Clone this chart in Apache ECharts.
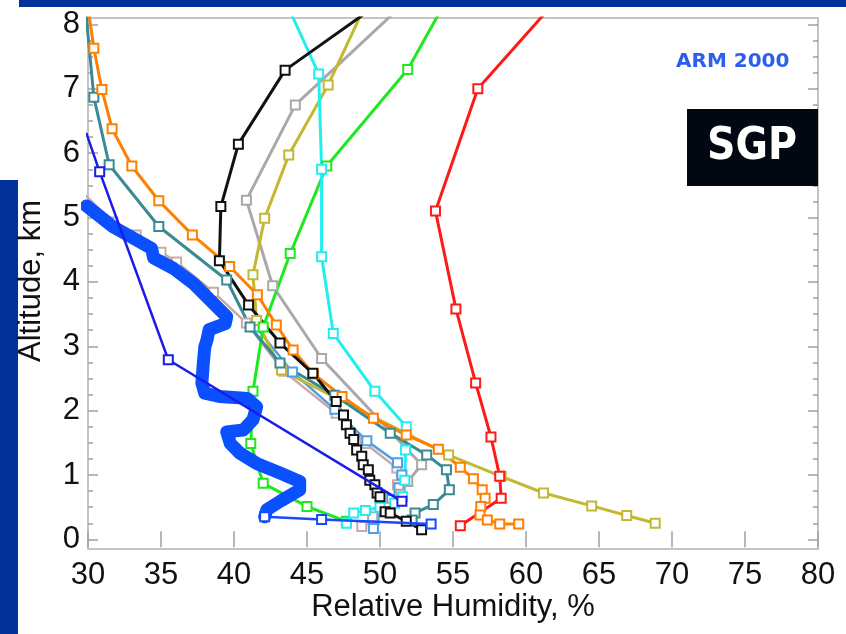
<!DOCTYPE html>
<html><head><meta charset="utf-8">
<script src="https://cdn.jsdelivr.net/npm/echarts@6/dist/echarts.min.js"></script>
<style>html,body{margin:0;padding:0;background:#fff}#c{width:846px;height:634px}</style>
</head><body><div id="c"></div>
<script>
// ---- data: [relative humidity %, altitude km] ----
const xTicks = [30,35,40,45,50,55,60,65,70,75,80];
const yTicks = [0,1,2,3,4,5,6,7,8];
const yMinorTicks = [0.25,0.5,0.75,1.25,1.5,1.75,2.25,2.5,2.75,3.25,3.5,3.75,4.25,4.5,4.75,5.25,5.5,5.75,6.25,6.5,6.75,7.25,7.5,7.75];

const redSeries = [[61.4,8.2],[56.7,7.0],[53.8,5.1],[55.2,3.58],[56.55,2.43],[57.6,1.59],[58.2,0.98],[58.3,0.64],[55.5,0.21]];
const greenSeries = [[54.6,8.4],[51.9,7.3],[46.35,5.8],[43.85,4.44],[42.0,3.3],[41.3,2.3],[41.15,1.49],[42.0,0.87],[45.0,0.51],[47.7,0.28]];
const cyanSeries = [[43.45,8.4],[45.8,7.23],[46.0,5.75],[46.0,4.39],[46.8,3.2],[49.65,2.3],[51.8,1.75],[51.75,1.39],[51.7,0.92],[51.55,0.66],[51.0,0.56],[50.0,0.5],[49.0,0.45],[48.2,0.41],[47.7,0.25]];
const blackSeries = [[50.4,8.4],[43.5,7.29],[40.3,6.14],[39.1,5.17],[39.0,4.33],[41.0,3.64],[43.15,3.05],[45.4,2.58],[47.0,2.14],[47.5,1.93],[47.7,1.78],[47.95,1.65],[48.2,1.55],[48.4,1.39],[48.75,1.29],[48.85,1.16],[49.2,1.08],[49.3,0.92],[49.65,0.85],[49.8,0.72],[50.0,0.66],[50.35,0.43],[50.7,0.41],[51.8,0.28],[52.85,0.15]];
const oliveSeries = [[49.2,8.4],[46.45,7.06],[43.75,5.97],[42.1,4.99],[41.3,4.11],[41.55,3.4],[43.25,2.63],[54.7,1.31],[58.3,0.98],[61.2,0.72],[64.5,0.52],[66.9,0.37],[68.85,0.25]];
const graySeries = [[52.0,8.4],[44.2,6.75],[40.85,5.27],[42.65,3.94],[46.0,2.81],[52.85,1.16],[51.9,0.9],[51.4,0.7],[50.5,0.5],[49.5,0.35]];
const orangeSeries = [[29.98,8.3],[30.4,7.63],[30.95,6.99],[31.65,6.38],[33.0,5.8],[34.85,5.26],[37.15,4.73],[39.7,4.24],[41.6,3.8],[42.9,3.33],[44.05,2.94],[45.45,2.57],[47.4,2.22],[49.55,1.88],[51.8,1.62],[54.0,1.40],[55.5,1.12],[56.4,0.94],[57.0,0.77],[57.2,0.64],[56.9,0.51],[56.85,0.38],[57.35,0.30],[58.2,0.24],[59.5,0.24]];
const tealSeries = [[29.85,8.2],[30.4,6.87],[31.45,5.82],[34.85,4.86],[39.5,4.03],[41.1,3.3],[43.15,2.74],[46.9,2.24],[50.7,1.65],[53.2,1.31],[54.55,1.08],[54.75,0.77],[53.65,0.54],[52.4,0.41],[52.2,0.3]];
const blueThinSeries = [[29.9,6.3],[30.8,5.71],[35.5,2.79],[51.5,0.59]];
const blueThickSeries = [[29.9,5.18],[31.7,4.86],[33.1,4.68],[34.35,4.52],[34.5,4.37],[35.85,4.21],[37.2,3.98],[38.35,3.72],[39.5,3.46],[39.4,3.35],[38.3,3.26],[38.15,3.1],[38.0,2.99],[37.9,2.74],[37.8,2.43],[38.0,2.27],[39.0,2.22],[40.9,2.19],[41.55,2.06],[41.3,1.86],[40.65,1.70],[39.5,1.67],[39.75,1.49],[40.4,1.34],[41.55,1.18],[43.15,1.03],[44.5,0.9],[44.5,0.77],[43.15,0.59],[42.25,0.46],[42.1,0.35]];
const blueTailSeries = [[42.1,0.35],[46.0,0.31],[53.5,0.24]];
const pinkSeries = [[29.9,5.33],[31.7,4.93],[33.3,4.73],[35.0,4.46],[36.07,4.31],[38.6,3.84],[40.85,3.36],[43.4,2.61],[47.0,1.96],[49.0,1.49],[51.15,1.11],[51.2,0.85],[50.9,0.62],[50.3,0.45],[49.5,0.3],[48.75,0.2]];
const lightBlueSeries = [[41.5,3.3],[44.0,2.6],[46.9,2.02],[49.1,1.53],[51.2,1.19],[51.5,1.0],[51.3,0.8],[50.8,0.62],[50.2,0.45],[49.6,0.3],[49.55,0.17]];

const titleLabel = 'ARM 2000';
const siteLabel = 'SGP';
const xName = 'Relative Humidity, %';
const yName = 'Altitude, km';

// ---- chart ----
const FONT = "'Liberation Sans', Arial, sans-serif";
function line(data, color, opts) {
  opts = opts || {};
  return {
    type: 'line', data: data, xAxisIndex: 0, yAxisIndex: 0,
    clip: true, smooth: false,
    symbol: opts.symbol === undefined ? 'emptyRect' : opts.symbol,
    symbolSize: opts.size || 9,
    showSymbol: opts.showSymbol !== false,
    lineStyle: { color: color, width: opts.width || 3, cap: 'round', join: 'round' },
    itemStyle: { color: color, borderColor: color, borderWidth: 2 },
    emphasis: { disabled: true },
    z: opts.z || 2
  };
}
const tickStyle = { color: '#a0a0a0', width: 1.5 };
const yBase = { type: 'value', min: -0.15, max: 8.1, axisLine: { show: false }, splitLine: { show: false } };
const chart = echarts.init(document.getElementById('c'), null, { renderer: 'canvas' });
chart.setOption({
  animation: false,
  backgroundColor: '#ffffff',
  grid: { left: 88, right: 28, top: 18, bottom: 85, show: true, borderColor: '#c4c4c4', borderWidth: 2 },
  xAxis: [
    { type: 'value', min: 30, max: 80, interval: 5, position: 'bottom', axisLine: { show: false },
      axisTick: { inside: true, length: 8, lineStyle: tickStyle },
      axisLabel: { fontSize: 31, color: '#111', margin: 11, fontFamily: FONT, customValues: xTicks },
      splitLine: { show: false } },
    { type: 'value', min: 30, max: 80, interval: 5, position: 'top', axisLine: { show: false },
      axisTick: { inside: true, length: 8, lineStyle: tickStyle },
      axisLabel: { show: false }, splitLine: { show: false } }
  ],
  yAxis: [
    Object.assign({}, yBase, { position: 'left', offset: 0,
      axisTick: { inside: true, length: 10, lineStyle: tickStyle, customValues: yTicks },
      axisLabel: { fontSize: 31, color: '#111', margin: 8, fontFamily: FONT, customValues: yTicks } }),
    Object.assign({}, yBase, { position: 'left', offset: 0,
      axisTick: { inside: true, length: 5, lineStyle: tickStyle, customValues: yMinorTicks },
      axisLabel: { show: false } }),
    Object.assign({}, yBase, { position: 'right', offset: 0,
      axisTick: { inside: true, length: 10, lineStyle: tickStyle, customValues: yTicks },
      axisLabel: { show: false } }),
    Object.assign({}, yBase, { position: 'right', offset: 0,
      axisTick: { inside: true, length: 5, lineStyle: tickStyle, customValues: yMinorTicks },
      axisLabel: { show: false } })
  ],
  series: [
    line(pinkSeries, '#c9a9a6', { width: 2.5 }),
    line(lightBlueSeries, '#4d9fe8', { width: 2.5 }),
    line(graySeries, '#a9a9a9'),
    line(oliveSeries, '#c2b832'),
    line(greenSeries, '#1ee81e'),
    line(cyanSeries, '#22eef0'),
    line(redSeries, '#ff1a1a'),
    line(tealSeries, '#3a8a94'),
    line(orangeSeries, '#ff8000'),
    line(blackSeries, '#111111'),
    line(blueThickSeries, '#0a50ff', { width: 13, showSymbol: false, symbol: 'none', z: 3 }),
    line(blueTailSeries, '#1a48ff', { width: 2.5, z: 4 }),
    line(blueThinSeries, '#1c1ce8', { width: 2.5, z: 4 })
  ],
  graphic: [
    { type: 'rect', left: 19, top: 0, shape: { width: 827, height: 7 }, style: { fill: '#02319a' }, z: 100 },
    { type: 'rect', left: 0, top: 180, shape: { width: 18, height: 454 }, style: { fill: '#02319a' }, z: 100 },
    { type: 'text', left: 676, top: 52, style: { text: titleLabel, font: "bold 20px 'DejaVu Sans', sans-serif", fill: '#2c5ff0' }, z: 100 },
    { type: 'rect', left: 687, top: 109, shape: { width: 131, height: 77 }, style: { fill: '#020812' }, z: 100 },
    { type: 'text', x: 752, y: 148, style: { text: siteLabel, font: "bold 44px 'DejaVu Sans Condensed', 'DejaVu Sans', sans-serif", fill: '#ffffff', align: 'center', verticalAlign: 'middle' }, z: 101 },
    { type: 'text', x: 453, y: 607, style: { text: xName, font: "31px " + FONT, fill: '#111', align: 'center', verticalAlign: 'middle' }, z: 100 },
    { type: 'text', x: 31, y: 281, rotation: Math.PI / 2, style: { text: yName, font: "31px " + FONT, fill: '#111', align: 'center', verticalAlign: 'middle' }, z: 100 }
  ]
});
</script></body></html>
